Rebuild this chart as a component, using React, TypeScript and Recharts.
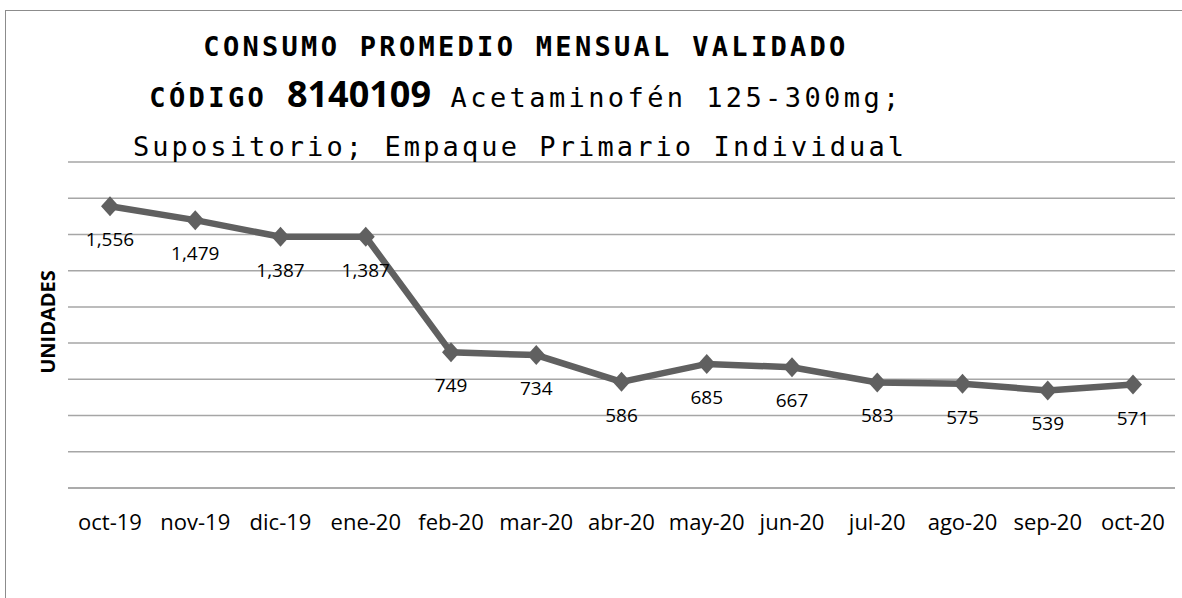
import { LineChart, Line, XAxis, YAxis, CartesianGrid, LabelList } from "recharts";

const months = [
  "oct-19", "nov-19", "dic-19", "ene-20", "feb-20", "mar-20", "abr-20",
  "may-20", "jun-20", "jul-20", "ago-20", "sep-20", "oct-20",
];
const consumo = [1556, 1479, 1387, 1387, 749, 734, 586, 685, 667, 583, 575, 539, 571];
const yTicks = [0, 200, 400, 600, 800, 1000, 1200, 1400, 1600, 1800];

const data = months.map((m, i) => ({ mes: m, valor: consumo[i] }));

const LINE = "#606060";
const GRID = "#a6a6a6";
const sans = "'Open Sans', sans-serif";
const mono = "'DejaVu Sans Mono', monospace";

function Diamond(props: any) {
  const { cx, cy } = props;
  if (cx == null || cy == null) return null;
  return (
    <polygon
      points={`${cx},${cy - 10} ${cx + 9},${cy} ${cx},${cy + 10} ${cx - 9},${cy}`}
      fill={LINE}
    />
  );
}

function ValueLabel(props: any) {
  const { x, y, value } = props;
  return (
    <text
      x={x}
      y={y + 35}
      textAnchor="middle"
      dominantBaseline="middle"
      fontFamily={sans}
      fontSize={19}
      fill="#000"
    >
      {value.toLocaleString("en-US")}
    </text>
  );
}

export default function App() {
  return (
    <div style={{ position: "absolute", left: 0, top: 0, width: 1182, height: 598, background: "#fff", overflow: "hidden" }}>
      <div
        style={{
          position: "absolute",
          left: 5,
          top: 10,
          width: 1200,
          height: 600,
          borderLeft: "1.5px solid #8c8c8c",
          borderTop: "1.5px solid #8c8c8c",
        }}
      />
      <LineChart
        width={1182}
        height={598}
        data={data}
        margin={{ top: 162, right: 7, bottom: 80, left: 68 }}
        style={{ position: "absolute", left: 0, top: 0 }}
      >
        <CartesianGrid vertical={false} stroke={GRID} strokeWidth={1.5} />
        <YAxis hide domain={[0, 1800]} ticks={yTicks} />
        <XAxis
          dataKey="mes"
          height={30}
          padding={{ left: 42, right: 42 }}
          axisLine={{ stroke: GRID, strokeWidth: 1.5 }}
          tickLine={false}
          tickSize={0}
          tickMargin={26}
          interval={0}
          tick={{ fill: "#000", fontSize: 22, fontFamily: sans }}
        />
        <Line
          dataKey="valor"
          stroke={LINE}
          strokeWidth={6.5}
          dot={<Diamond />}
          activeDot={false}
          isAnimationActive={false}
        >
          <LabelList dataKey="valor" content={<ValueLabel />} />
        </Line>
      </LineChart>
      <div
        style={{
          position: "absolute",
          left: 47,
          top: 322,
          transform: "translate(-50%, -50%) rotate(-90deg)",
          fontFamily: sans,
          fontWeight: "bold",
          fontSize: 20,
          whiteSpace: "nowrap",
        }}
      >
        UNIDADES
      </div>
      <div
        style={{
          position: "absolute",
          left: 0,
          top: 29,
          width: 1052,
          textAlign: "center",
          fontFamily: mono,
          fontSize: 27,
          letterSpacing: 3.3,
          fontWeight: "bold",
          whiteSpace: "pre",
          lineHeight: "36px",
        }}
      >
        CONSUMO PROMEDIO MENSUAL VALIDADO
      </div>
      <div
        style={{
          position: "absolute",
          left: 0,
          top: 73,
          width: 1052,
          textAlign: "center",
          fontFamily: mono,
          fontSize: 27,
          letterSpacing: 3.4,
          whiteSpace: "pre",
          lineHeight: "42px",
        }}
      >
        <span style={{ fontWeight: "bold" }}>CÓDIGO </span>
        <span style={{ fontFamily: sans, fontWeight: "bold", fontSize: 36, letterSpacing: 0 }}>8140109</span>
        <span> Acetaminofén 125-300mg;</span>
      </div>
      <div
        style={{
          position: "absolute",
          left: 0,
          top: 129,
          width: 1040,
          textAlign: "center",
          fontFamily: mono,
          fontSize: 27,
          letterSpacing: 3.1,
          whiteSpace: "pre",
          lineHeight: "36px",
        }}
      >
        Supositorio; Empaque Primario Individual
      </div>
    </div>
  );
}
